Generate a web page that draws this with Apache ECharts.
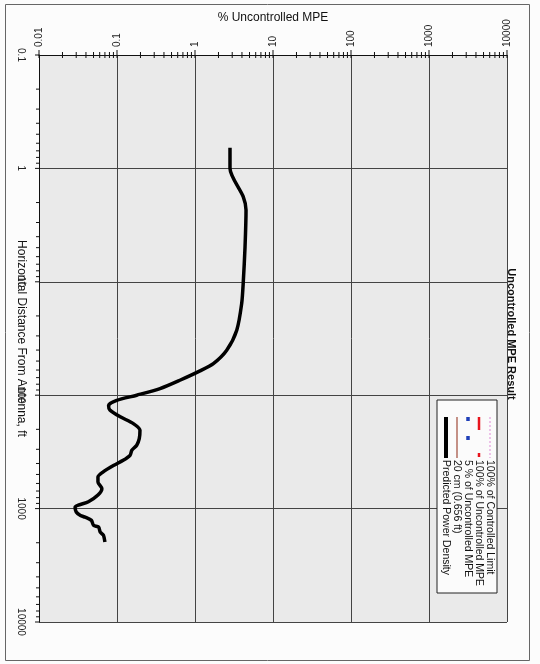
<!DOCTYPE html>
<html>
<head>
<meta charset="utf-8">
<script src="https://cdn.jsdelivr.net/npm/echarts@6/dist/echarts.min.js"></script>
<style>
html,body{margin:0;padding:0;background:#fcfcfc;}
#c{width:540px;height:664px;}
</style>
</head>
<body>
<div id="c"></div>
<script>
// ---- data ----
const distanceFt = [0.656, 1.0, 1.78, 2.33, 4.93, 10, 15.5, 26.7, 40.1, 52.6, 61, 73.8, 87.5, 100, 111, 123, 135, 155, 178, 204, 242, 276, 306, 339, 375, 417, 476, 526, 583, 667, 760, 870, 970, 1072, 1148, 1190, 1270, 1405, 1455, 1610, 1720, 1970];
const percentMPE = [2.81, 2.81, 4.16, 4.51, 4.38, 4.16, 3.97, 3.43, 2.55, 1.72, 1.16, 0.64, 0.356, 0.179, 0.099, 0.078, 0.081, 0.11, 0.162, 0.197, 0.193, 0.179, 0.155, 0.147, 0.12, 0.09, 0.066, 0.057, 0.057, 0.064, 0.057, 0.043, 0.029, 0.030, 0.034, 0.039, 0.047, 0.05, 0.058, 0.061, 0.067, 0.070];
const xTickLabels = ['0.01', '0.1', '1', '10', '100', '1000', '10000'];
const yTickLabels = ['0.1', '1', '10', '100', '1000', '10000'];
const legendNames = ['100% of Controlled Limit', '100% of Uncontrolled MPE', '5 % of Uncontrolled MPE', '20 cm (0.656 ft)', 'Predicted Power Density'];
const chartTitle = 'Uncontrolled MPE Result';
const xName = '% Uncontrolled MPE';
const yName = 'Horizontal Distance From Antenna, ft';

// ---- derived ----
const xMin = Number(xTickLabels[0]), xMax = Number(xTickLabels[xTickLabels.length - 1]);
const yMin = Number(yTickLabels[0]), yMax = Number(yTickLabels[yTickLabels.length - 1]);
function labelFor(list) {
  return function (v) {
    const e = Math.round(Math.log10(v));
    const first = Math.round(Math.log10(Number(list[0])));
    return list[e - first] !== undefined ? list[e - first] : '';
  };
}
function ticksBetween(list) {
  const out = [];
  for (let i = 0; i < list.length; i++) {
    const d = Number(list[i]);
    out.push({v: d, major: true});
    if (i < list.length - 1) for (let k = 2; k <= 9; k++) out.push({v: d * k, major: false});
  }
  return out;
}
const xTicks = ticksBetween(xTickLabels).map(t => [t.v, yMin, t.major ? 1 : 0]);
const yTicks = ticksBetween(yTickLabels).map(t => [xMin, t.v, t.major ? 1 : 0]);
const lineData = distanceFt.map((d, i) => [percentMPE[i], d]);

const FONT = '"Liberation Sans", Arial, sans-serif';
const chart = echarts.init(document.getElementById('c'), null, {renderer: 'canvas'});

const legendStyles = [
  {stroke: '#e08ad8', lineWidth: 1, lineDash: [2, 2]},
  {stroke: '#e8141c', lineWidth: 2.5, lineDash: [13, 23, 4, 60]},
  {stroke: '#1f3fb8', lineWidth: 3.5, lineDash: [4, 15]},
  {stroke: '#a04a3a', lineWidth: 1.2},
  {stroke: '#000', lineWidth: 4}
];
const legendX = [490, 479, 468, 457, 446];
const legendEnd = [458, 458, 442, 458, 458];
const legendGraphics = [
  {type: 'rect', shape: {x: 437, y: 400, width: 60, height: 193}, style: {fill: '#fbfbfb', stroke: '#222', lineWidth: 1}, z: 10}
];
legendNames.forEach((n, i) => {
  legendGraphics.push({type: 'line', shape: {x1: legendX[i], y1: 417, x2: legendX[i], y2: legendEnd[i]}, style: legendStyles[i], z: 11});
  legendGraphics.push({type: 'text', x: legendX[i], y: 460, rotation: -Math.PI / 2,
    style: {text: n, fontSize: 10.5, fontFamily: FONT, fill: '#111', align: 'left', verticalAlign: 'middle'}, z: 11});
});

const option = {
  animation: false,
  backgroundColor: '#fcfcfc',
  grid: {left: 39, top: 55, right: 33, bottom: 42, show: true, backgroundColor: '#eaeaea', borderWidth: 0, outerBoundsMode: 'none'},
  xAxis: {
    type: 'log', logBase: 10, min: xMin, max: xMax, splitNumber: 6, position: 'top',
    name: xName, nameLocation: 'middle', nameGap: 31, nameMoveOverlap: false,
    nameTextStyle: {fontSize: 12, fontFamily: FONT, color: '#111'},
    axisLine: {show: true, lineStyle: {color: '#111', width: 1}},
    axisTick: {show: false},
    axisLabel: {rotate: -90, margin: 8, fontSize: 10, fontFamily: FONT, color: '#222', formatter: labelFor(xTickLabels), showMinLabel: true, showMaxLabel: true},
    splitLine: {show: true, lineStyle: {color: '#444', width: 1}},
    minorTick: {show: false}, minorSplitLine: {show: false}
  },
  yAxis: {
    type: 'log', logBase: 10, min: yMin, max: yMax, splitNumber: 5, inverse: true,
    name: yName, nameLocation: 'middle', nameRotate: -90, nameGap: 12, nameMoveOverlap: false,
    nameTextStyle: {fontSize: 12, fontFamily: FONT, color: '#111'},
    axisLine: {show: true, lineStyle: {color: '#111', width: 1}},
    axisTick: {show: false},
    axisLabel: {rotate: -90, margin: 13, fontSize: 10, fontFamily: FONT, color: '#222', formatter: labelFor(yTickLabels), showMinLabel: true, showMaxLabel: true},
    splitLine: {show: true, lineStyle: {color: '#444', width: 1}},
    minorTick: {show: false}, minorSplitLine: {show: false}
  },
  series: [
    {
      type: 'line', name: legendNames[4], data: lineData, showSymbol: false, symbol: 'none',
      smooth: 0.25, lineStyle: {color: '#000', width: 3.5}, clip: true, z: 5
    },
    {
      type: 'custom', data: xTicks, clip: false, silent: true, z: 6,
      renderItem: function (params, api) {
        const p = api.coord([api.value(0), api.value(1)]);
        const major = api.value(2) === 1;
        return {type: 'line', shape: {x1: p[0], y1: p[1] - (major ? 5 : 3), x2: p[0], y2: p[1] + 3}, style: {stroke: '#111', lineWidth: 1}};
      }
    },
    {
      type: 'custom', data: yTicks, clip: false, silent: true, z: 6,
      renderItem: function (params, api) {
        const p = api.coord([api.value(0), api.value(1)]);
        const major = api.value(2) === 1;
        return {type: 'line', shape: {x1: p[0] - (major ? 4 : 3), y1: p[1], x2: p[0], y2: p[1]}, style: {stroke: '#111', lineWidth: 1}};
      }
    }
  ],
  graphic: [
    {type: 'rect', shape: {x: 5.5, y: 4.5, width: 524, height: 656}, style: {fill: 'none', stroke: '#666', lineWidth: 1}, z: 0, silent: true},
    {type: 'text', x: 511, y: 334, rotation: -Math.PI / 2,
      style: {text: chartTitle, fontSize: 11, fontWeight: 'bold', fontFamily: FONT, fill: '#111', align: 'center', verticalAlign: 'middle'}, z: 10},
    ...legendGraphics
  ]
};
chart.setOption(option);
</script>
</body>
</html>
